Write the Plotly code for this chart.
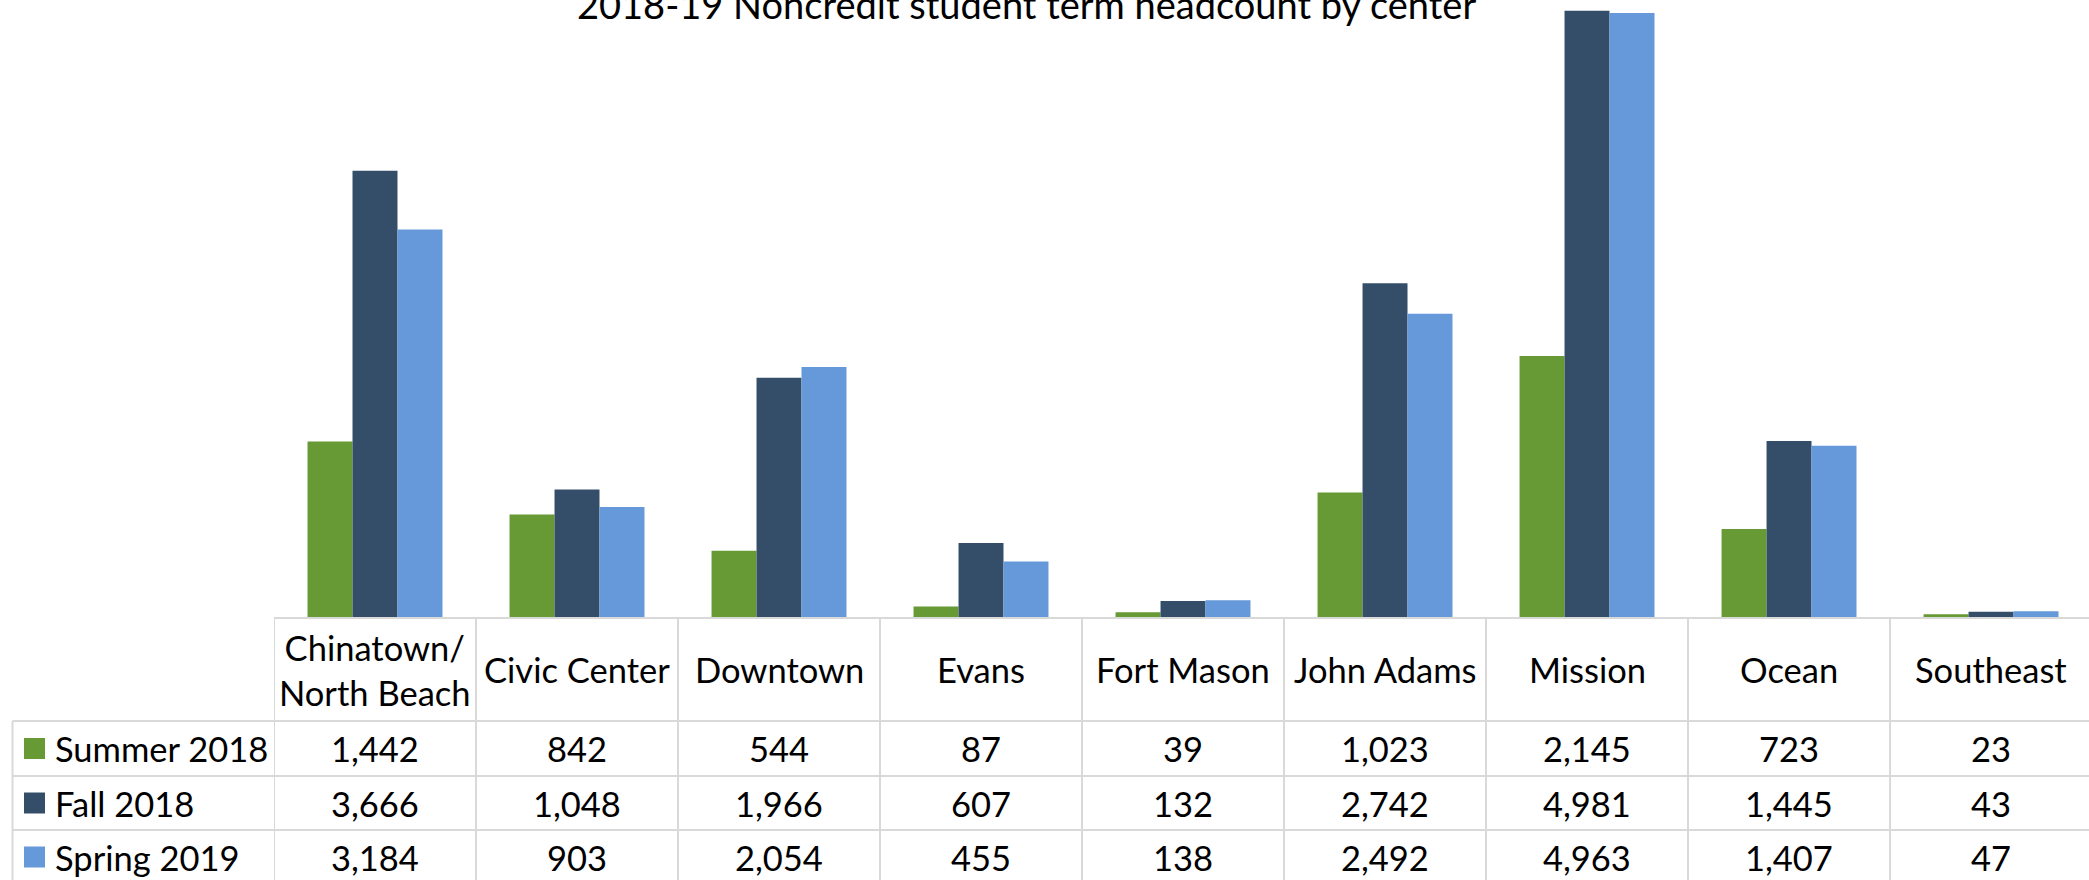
import plotly.graph_objects as go

# ---- data ----
centers = ["Chinatown/<br>North Beach", "Civic Center", "Downtown", "Evans", "Fort Mason",
           "John Adams", "Mission", "Ocean", "Southeast"]
series_names = ["Summer 2018", "Fall 2018", "Spring 2019"]
summer_2018 = [1442, 842, 544, 87, 39, 1023, 2145, 723, 23]
fall_2018 = [3666, 1048, 1966, 607, 132, 2742, 4981, 1445, 43]
spring_2019 = [3184, 903, 2054, 455, 138, 2492, 4963, 1407, 47]
title_text = "2018-19 Noncredit student term headcount by center"

# ---- style ----
colors = ["#679934", "#344E6A", "#6699D9"]
W, H = 2089, 880
ML, MB = 274, 263
PLOT_W = W - ML
PLOT_H = H - MB
FONT = "Lato"
FS = 34.5
GRID = "#D9D9D9"


def px2x(px):
    return (px - ML) / PLOT_W


def py2y(py):
    return (PLOT_H - py) / PLOT_H


fig = go.Figure()
for name, vals, col in zip(series_names, [summer_2018, fall_2018, spring_2019], colors):
    fig.add_trace(go.Bar(x=centers, y=vals, name=name, marker=dict(color=col, line=dict(width=0)),
                         showlegend=False, hoverinfo="x+y+name"))

shapes = []
annotations = []

# table lines
row_lines = [618, 721, 776, 830]
shapes.append(dict(type="line", xref="paper", yref="paper", x0=0, x1=1,
                   y0=py2y(618), y1=py2y(618), line=dict(color=GRID, width=2), layer="above"))
for r in row_lines[1:]:
    shapes.append(dict(type="line", xref="paper", yref="paper", x0=px2x(12.5), x1=1,
                       y0=py2y(r), y1=py2y(r), line=dict(color=GRID, width=2), layer="above"))
shapes.append(dict(type="line", xref="paper", yref="paper", x0=px2x(12.5), x1=px2x(12.5),
                   y0=py2y(721), y1=py2y(H + 5), line=dict(color=GRID, width=2), layer="above"))
for k in range(len(centers) + 1):
    shapes.append(dict(type="line", xref="x", yref="paper", x0=k - 0.5, x1=k - 0.5,
                       y0=py2y(618), y1=py2y(H + 5), line=dict(color=GRID, width=2), layer="above"))

# header texts
for c in centers:
    annotations.append(dict(x=c, xref="x", y=py2y(669.5), yref="paper", text=c, showarrow=False,
                            xanchor="center", yanchor="middle",
                            font=dict(family=FONT, size=FS, color="#000000")))

row_centers = [748.5, 803, 857]
for name, vals, col, rc in zip(series_names, [summer_2018, fall_2018, spring_2019], colors, row_centers):
    # legend key
    shapes.append(dict(type="rect", xref="paper", yref="paper", x0=px2x(24), x1=px2x(45),
                       y0=py2y(rc - 10.5), y1=py2y(rc + 10.5), fillcolor=col, line=dict(width=0)))
    annotations.append(dict(x=px2x(53), xref="paper", y=py2y(rc), yref="paper", text=name,
                            showarrow=False, xanchor="left", yanchor="middle",
                            font=dict(family=FONT, size=FS, color="#000000")))
    for c, v in zip(centers, vals):
        annotations.append(dict(x=c, xref="x", y=py2y(rc), yref="paper", text=f"{v:,}",
                                showarrow=False, xanchor="center", yanchor="middle",
                                font=dict(family=FONT, size=FS, color="#000000")))

# title
annotations.append(dict(x=px2x(1026), xref="paper", y=py2y(29), yref="paper", text=title_text,
                        showarrow=False, xanchor="center", yanchor="bottom",
                        font=dict(family=FONT, size=38, color="#000000")))

fig.update_layout(
    width=W, height=H, autosize=False,
    margin=dict(l=ML, r=0, t=0, b=MB, pad=0),
    paper_bgcolor="white", plot_bgcolor="white",
    barmode="group", bargap=0.332, bargroupgap=0,
    xaxis=dict(type="category", range=[-0.5, 8.485], showticklabels=False, showgrid=False,
               zeroline=False, showline=False, ticks=""),
    yaxis=dict(range=[0, 5069], showticklabels=False, showgrid=False, zeroline=False,
               showline=False, ticks=""),
    shapes=shapes, annotations=annotations,
    font=dict(family=FONT, size=FS, color="#000000"),
)

fig.write_html("out.html", config={"displayModeBar": False},
               post_script="document.body.style.margin='0';document.body.style.overflow='hidden';")
